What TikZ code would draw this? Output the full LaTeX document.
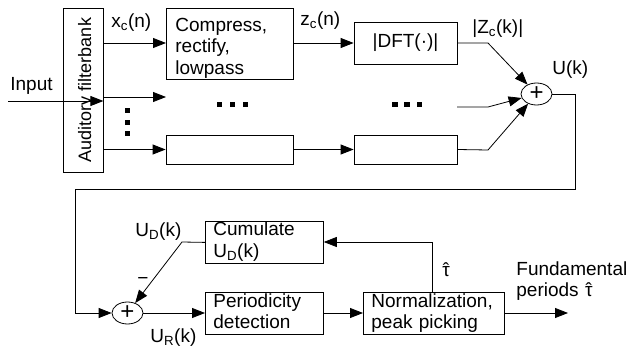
\documentclass[tikz,border=0pt]{standalone}
\usepackage{fontspec}
\setmainfont{Liberation Sans}
\usetikzlibrary{arrows.meta,shapes.geometric}
% tau with a circumflex on top
\newcommand\tauhat{\ooalign{τ\cr\hidewidth ˆ\hidewidth\cr}}

\begin{document}
\begin{tikzpicture}[x=1pt,y=-1pt,
  font=\fontsize{19}{21.5}\selectfont,
  line width=0.8pt,
  box/.style={draw, inner sep=0pt},
  textbox/.style={draw, anchor=north west, inner ysep=0pt, inner xsep=8pt, align=left},
  sumnode/.style={draw, ellipse, minimum width=31pt, minimum height=22pt, inner sep=0pt,
    font=\fontsize{24}{24}\selectfont},
  arr/.style={-{Triangle[length=13pt,width=10pt]}},
  lbl/.style={inner sep=0pt, anchor=base west},
  dotmark/.style={fill=black}]
\useasboundingbox (0,0) rectangle (634,350);

% ---------- analysis part ----------
\node[box, rotate=90, minimum width=164pt, text height=28pt, text depth=12pt,
  font=\fontsize{18}{21}\selectfont]
  (fb) at (83,90) {Auditory filterbank};

\node[textbox, inner xsep=9pt, text width=109pt, text height=23pt, text depth=48pt]
  (comp) at (166,8) {Compress,\\rectify,\\lowpass};
\node[box, minimum width=127pt, minimum height=29pt] (compc) at (229.5,149.5) {};

\node[box, minimum width=103pt, minimum height=42pt] (dft) at (405.5,43) {|DFT(·)|};
\node[box, minimum width=103pt, minimum height=29pt] (dftc) at (405.5,149.5) {};

\node[sumnode] (sum) at (536.5,94) {+};

\coordinate (in) at (8,101);
\coordinate (r2) at (166,97);
\coordinate (r2b) at (457,107);
\coordinate (k1) at (488,43);
\coordinate (k2) at (488,107);
\coordinate (k3) at (488,150);

\draw[arr] (in) -- (fb.south |- in);
\draw[arr] (fb.south |- 0,43) -- (comp.west |- 0,43);
\draw[arr] (fb.south |- r2) -- (r2);
\draw[arr] (fb.south |- compc.west) -- (compc.west);
\draw[arr] (comp.east |- 0,43) -- (dft.west);
\draw[arr] (compc.east) -- (dftc.west);
\draw[arr] (dft.east) -- (k1) -- (sum);
\draw[arr] (r2b) -- (k2) -- (sum);
\draw[arr] (dftc.east) -- (k3) -- (sum);

% ellipsis marks
\foreach \y in {110.5,122.5,133.5}
  \fill[dotmark] (124.5,\y-2.5) rectangle ++(5.5,5);
\foreach \x in {219,232,245,394.5,406.5,419}
  \fill[dotmark] (\x-2.5,102) rectangle ++(5.5,5);

\node[lbl] (inlbl) at (10,91) {Input};
\node[lbl] (xlbl) at (111,28) {x\textsubscript{c}(n)};
\node[lbl] (zlbl) at (300,26) {z\textsubscript{c}(n)};
\node[lbl] (Zlbl) at (472,34) {|Z\textsubscript{c}(k)|};
\node[lbl] (ulbl) at (552,75) {U(k)};

% ---------- periodicity part ----------
\node[sumnode] (sumb) at (127.5,313) {+};
\node[textbox, text width=102pt, text height=14.5pt, text depth=27.5pt]
  (cum) at (205,221) {Cumulate\\U\textsubscript{D}(k)};
\node[textbox, text width=102pt, text height=15pt, text depth=27pt]
  (per) at (205,292) {Periodicity\\detection};
\node[textbox, text width=125pt, text height=15pt, text depth=27pt]
  (norm) at (363,292) {Normalization,\\peak picking};

\coordinate (c1) at (575,94);
\coordinate (c2) at (575,189);
\coordinate (c3) at (75,189);
\coordinate (c4) at (75,313);
\coordinate (ud) at (182,242);
\coordinate (fbk) at (432,242);
\coordinate (out) at (568,313);

\draw[arr] (sum.east) -- (c1) -- (c2) -- (c3) -- (c4) -- (sumb.west);
\draw[arr] (cum.west) -- (ud) -- (sumb);
\draw[arr] (sumb.east) -- (per.west |- sumb);
\draw[arr] (per.east |- sumb) -- (norm.west |- sumb);
\draw[arr] (norm.north -| fbk) -- (fbk) -- (cum.east |- fbk);
\draw[arr] (norm.east |- sumb) -- (out);

\node[lbl] (udlbl) at (135,236) {U\textsubscript{D}(k)};
\node[lbl] (minus) at (137,284) {−};
\node[lbl] (urlbl) at (150,342) {U\textsubscript{R}(k)};
\node[lbl] (taulbl) at (442,276) {\tauhat};
\node[lbl, align=left, text width=120pt] (fundlbl) at (516,275) {Fundamental\\periods \tauhat};
\end{tikzpicture}
\end{document}
